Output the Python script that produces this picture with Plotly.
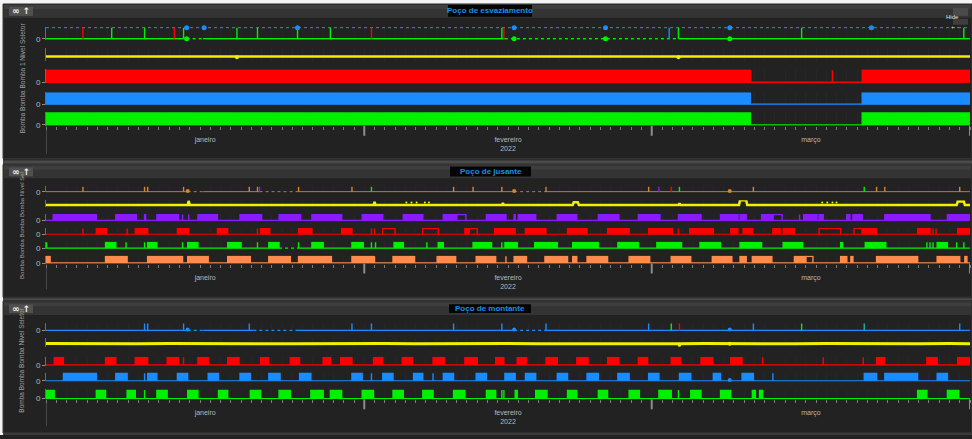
import plotly.graph_objects as go
import pandas as pd

W, H = 972, 439
START = pd.Timestamp("2022-01-01")
PERIOD_DAYS = 90

# ---------------- text ----------------
panel_titles = ["Poço de esvaziamento", "Poço de jusante", "Poço de montante"]
axis_titles = ["Bomba Bomba Bomba 1 Nível Seletor",
               "Bomba Bomba Bomba Bomba Nível Sel",
               "Bomba Bomba Bomba Nível Seletor"]
axis_title_sizes = [6.5, 6, 6.5]
month_tickvals = ["2022-01-16 12:00", "2022-02-15 00:00", "2022-03-16 12:00"]
month_ticktext = ["janeiro", "fevereiro<br>2022", "março"]
month_bounds = ["2022-02-01", "2022-03-01", "2022-04-01"]

# ---------------- data: day offsets from 2022-01-01 ----------------
# Panel 1 - Poço de esvaziamento
p1_sel_green_spikes = [6.4, 9.6, 13.4, 18.6, 20.6, 24.5, 27.7, 44.4, 61.6, 73.6, 89.4]
p1_sel_red_spikes = [3.6, 12.5, 31.7, 44.6]
p1_sel_blue_spikes = [60.7]
p1_sel_gaps = [(13.7, 15.3), (44.7, 61.6)]
p1_sel_blue_dots = [13.7, 15.4, 24.5, 45.6, 54.5, 66.6, 80.4]
p1_sel_green_dots = [13.7, 45.6, 54.5, 66.6]
p1_level_x = [0, 9.6, 18.6, 27.7, 36, 45.6, 54.5, 61.6, 70, 80, 90]
p1_level_y = [0.36, 0.36, 0.35, 0.36, 0.36, 0.37, 0.36, 0.35, 0.36, 0.36, 0.36]
p1_level_dots = [18.6, 61.6]
p1_pump1_on = [(0, 68.6), (76.6, 76.6), (79.5, 90)]
p1_pump2_on = [(0, 68.6), (79.5, 90)]
p1_pump3_on = [(0, 68.6), (79.5, 90)]

# Panel 2 - Poço de jusante
p2_sel_spikes = [3.6, 9.6, 9.9, 13.4, 19.8, 20.6, 24.6, 29.8, 39.7, 41.6, 44.4, 48.7,
                 58.7, 68.9, 80.9, 81.7, 89.0]
p2_sel_purple_spikes = [20.8, 59.7]
p2_sel_green_spikes = [31.7, 61.7, 79.7]
p2_sel_red_spikes = [60.9]
p2_sel_gaps = [(13.8, 15.3), (20.8, 24.6), (45.6, 48.7)]
p2_sel_dots = [13.8, 45.6, 66.6]
p2_level_x = [0, 13.8, 13.9, 14.0, 31.9, 32.0, 32.1, 44.4, 44.5, 44.6, 51.3, 51.4, 51.8,
              51.9, 61.6, 61.7, 61.8, 67.5, 67.6, 68.2, 68.3, 88.7, 88.8, 89.4, 89.5, 90]
p2_level_y = [0.29, 0.29, 0.9, 0.29, 0.29, 0.75, 0.29, 0.29, 0.6, 0.29, 0.29, 0.7, 0.7,
              0.29, 0.29, 0.55, 0.29, 0.29, 1.0, 1.0, 0.29, 0.29, 0.8, 0.8, 0.29, 0.29]
p2_level_blips = [35.1, 35.6, 36.1, 36.9, 37.3, 75.6, 76.1, 76.6, 77.0]
p2_purple_on = [(0.7, 4.9), (6.8, 8.8), (9.6, 9.7), (10.8, 12.9), (13.3, 13.3), (13.9, 13.9),
                (14.8, 16.7), (18.9, 21.0), (22.7, 24.8), (25.9, 28.8), (30.8, 32.8),
                (34.8, 36.7), (38.7, 40.0), (42.9, 44.8), (45.6, 45.7), (46.0, 47.7),
                (49.8, 51.7), (53.8, 55.8), (57.7, 59.8), (61.6, 63.8), (65.7, 67.4),
                (67.6, 68.2), (69.7, 70.8), (73.4, 73.4), (73.8, 75.1), (75.3, 75.7),
                (78.0, 78.3), (78.6, 79.5), (81.7, 86.1), (87.8, 90)]
p2_purple_partial = [(40.0, 40.9), (70.8, 71.7)]
p2_red_on = [(3.6, 3.6), (4.9, 5.9), (7.9, 7.9), (8.7, 9.9), (12.8, 13.9), (16.7, 17.7),
             (20.6, 20.6), (20.9, 21.8), (24.6, 25.9), (28.8, 29.8), (31.7, 31.7),
             (32.0, 32.0), (40.8, 41.2), (43.7, 45.7), (46.7, 48.7), (50.8, 52.7),
             (54.7, 56.8), (58.7, 61.0), (61.6, 61.6), (62.7, 65.0), (66.7, 67.4),
             (67.9, 68.8), (70.8, 71.5), (71.8, 72.9), (79.5, 80.9), (84.9, 86.1),
             (86.4, 86.4), (86.7, 86.7), (88.8, 90)]
p2_red_partial = [(32.8, 34.0), (36.7, 38.2), (41.2, 42.0), (75.3, 77.4), (78.7, 79.5)]
p2_green_on = [(0.05, 0.05), (5.8, 6.8), (7.8, 7.8), (9.6, 9.6), (9.9, 10.8), (13.3, 13.3),
               (13.8, 14.8), (17.7, 19.0), (20.6, 20.6), (21.7, 22.7), (24.6, 24.6),
               (25.9, 27.0), (29.8, 30.9), (31.7, 31.7), (32.1, 32.1), (33.9, 34.8),
               (37.1, 37.1), (38.2, 38.7), (41.6, 43.4), (44.4, 44.4), (44.7, 45.9),
               (47.6, 49.8), (51.3, 53.8), (55.7, 57.7), (59.5, 61.9), (63.7, 65.7),
               (67.6, 69.7), (71.8, 73.7), (77.4, 77.6), (79.8, 81.8), (85.8, 85.8),
               (86.1, 86.1), (86.4, 86.4), (86.8, 87.8), (88.7, 88.7), (89.4, 89.4)]
p2_green_gaps = [(22.7, 24.6)]
p2_coral_on = [(0, 0.4), (5.8, 7.9), (9.9, 13.3), (13.8, 15.8), (17.7, 19.9), (21.7, 23.8),
               (24.6, 27.8), (29.8, 31.9), (32.0, 32.0), (33.8, 35.9), (38.1, 39.9),
               (41.9, 43.8), (44.8, 44.8), (45.6, 46.8), (48.6, 50.8), (51.3, 51.7),
               (52.7, 54.7), (56.8, 58.8), (60.9, 62.8), (64.9, 66.8), (67.6, 68.2),
               (68.8, 70.7), (72.9, 74.0), (77.4, 78.0), (78.4, 78.6), (80.9, 84.9),
               (86.8, 89.0), (89.5, 89.7)]
p2_coral_partial = [(74.0, 74.7)]

# Panel 3 - Poço de montante
p3_sel_spikes = [9.6, 9.9, 13.4, 19.8, 29.8, 31.7, 39.7, 44.4, 48.7, 58.7, 68.9, 89.0]
p3_sel_green_spikes = [60.9, 73.6]
p3_sel_red_spikes = [61.7]
p3_sel_teal_spikes = [79.7]
p3_sel_gaps = [(13.8, 15.3), (20.2, 24.3), (45.6, 48.7)]
p3_sel_dots = [13.8, 45.6, 66.6]
p3_level_x = [0, 3, 6, 9, 12, 15, 18, 21, 24, 27, 30, 33, 36, 39, 42, 45, 48, 51, 54, 57,
              60, 61.6, 61.7, 61.8, 64, 67, 70, 73, 76, 79, 82, 85, 88, 90]
p3_level_y = [0.36, 0.33, 0.37, 0.34, 0.36, 0.33, 0.37, 0.35, 0.33, 0.36, 0.34, 0.37, 0.33,
              0.36, 0.34, 0.37, 0.33, 0.35, 0.37, 0.34, 0.36, 0.34, 0.15, 0.34, 0.36, 0.33,
              0.37, 0.34, 0.36, 0.33, 0.37, 0.34, 0.36, 0.35]
p3_level_dots = [66.6]
p3_red_on = [(0.8, 1.7), (5.8, 6.8), (8.7, 9.9), (11.8, 12.9), (13.4, 13.4), (14.8, 15.8),
             (17.7, 18.8), (20.9, 21.7), (23.8, 24.7), (27.0, 27.7), (28.7, 29.8),
             (31.9, 32.8), (34.7, 35.7), (37.7, 38.8), (40.8, 42.0), (43.8, 44.6),
             (45.9, 46.8), (48.7, 49.8), (51.7, 52.8), (54.7, 55.8), (57.7, 58.6),
             (60.9, 61.8), (63.8, 64.9), (66.7, 67.8), (69.8, 69.8), (75.7, 75.7),
             (79.6, 79.6), (80.9, 81.7), (85.8, 86.8), (88.8, 90)]
p3_blue_on = [(1.7, 4.9), (6.8, 7.9), (9.6, 9.6), (9.9, 10.8), (12.8, 13.8), (15.8, 16.8),
              (18.9, 19.9), (21.7, 22.8), (24.7, 25.8), (29.8, 30.8), (31.7, 31.7),
              (32.8, 33.8), (35.8, 36.7), (37.7, 37.7), (38.7, 39.7), (41.9, 42.9),
              (44.7, 45.7), (46.7, 47.7), (49.8, 50.8), (52.7, 53.8), (55.7, 56.8),
              (58.7, 59.7), (61.7, 62.8), (65.0, 65.7), (67.8, 68.9), (70.8, 70.8),
              (79.7, 80.9), (81.7, 84.9), (86.8, 87.8)]
p3_blue_dots = [66.6]
p3_green_on = [(0, 0.8), (4.9, 5.8), (7.9, 8.7), (9.6, 9.6), (10.8, 11.8), (13.8, 14.8),
               (16.8, 17.7), (19.9, 20.9), (22.7, 23.8), (25.8, 27.0), (27.7, 28.8),
               (30.8, 31.9), (33.8, 34.8), (36.7, 37.7), (39.7, 40.8), (42.9, 43.8),
               (44.4, 44.4), (44.6, 44.6), (45.7, 45.9), (47.7, 48.8), (50.8, 51.7),
               (53.8, 54.7), (56.8, 57.8), (59.7, 60.9), (61.6, 61.6), (62.8, 63.8),
               (65.7, 66.7), (68.8, 69.1), (69.5, 69.8), (84.9, 85.8), (87.8, 88.9)]

# ---------------- style ----------------
GREEN = "#00f000"
RED = "#ff0000"
BLUE = "#1a8cff"
YELLOW = "#f0f000"
PURPLE = "#8c1aff"
CORAL = "#ff8c4d"
OCHRE = "#d8891c"
TEAL = "#20b0a0"
BG = "#222222"
BAND = "#303030"
GRID = "#262626"
TXT = "#b8b8b8"

# row layout: (panel, top px, bottom px, kind)
rows = [
    (0, 27, 40, "state"), (0, 48, 62, "level"), (0, 70, 84, "state"),
    (0, 93, 106, "state"), (0, 113, 127, "state"),
    (1, 188, 194, "state"), (1, 202, 209, "level"), (1, 216, 223, "state"),
    (1, 230, 237, "state"), (1, 244, 251, "state"), (1, 258, 266, "state"),
    (2, 326, 334, "state"), (2, 341, 350, "level"), (2, 360, 369, "state"),
    (2, 376, 385, "state"), (2, 393, 403, "state"),
]
panel_bottom_row = {0: 5, 1: 11, 2: 16}
panel_box = {0: (4, 160), 1: (166, 300), 2: (304, 437)}
panel_axis_end = {0: 155, 1: 292, 2: 430}


def ts(d):
    return (START + pd.Timedelta(days=d)).strftime("%Y-%m-%d %H:%M:%S")


def ax(i):
    return ("x" if i == 1 else f"x{i}"), ("y" if i == 1 else f"y{i}")


fig = go.Figure()


def add_blocks(i, color, intervals, fill=True, width=1.4):
    xs, ys = [], []
    for s, e in intervals:
        xs += [ts(s), ts(s), ts(e), ts(e), None]
        ys += [0, 1, 1, 0, None]
    xa, ya = ax(i)
    fig.add_trace(go.Scatter(x=xs, y=ys, xaxis=xa, yaxis=ya, mode="lines",
                             line=dict(color=color, width=width),
                             fill="toself" if fill else "none", fillcolor=color,
                             hoverinfo="skip"))


def add_spikes(i, color, days, width=1.4):
    add_blocks(i, color, [(d, d) for d in days], fill=False, width=width)


def add_baseline(i, color, gaps=(), width=1.4):
    xs, ys, dx, dy = [], [], [], []
    cur = 0
    for gs, ge in gaps:
        xs += [ts(cur), ts(gs), None]
        ys += [0, 0, None]
        dx += [ts(gs), ts(ge), None]
        dy += [0, 0, None]
        cur = ge
    xs += [ts(cur), ts(PERIOD_DAYS)]
    ys += [0, 0]
    xa, ya = ax(i)
    fig.add_trace(go.Scatter(x=xs, y=ys, xaxis=xa, yaxis=ya, mode="lines",
                             line=dict(color=color, width=width), hoverinfo="skip"))
    if dx:
        fig.add_trace(go.Scatter(x=dx, y=dy, xaxis=xa, yaxis=ya, mode="lines",
                                 line=dict(color=color, width=width, dash="dot"),
                                 hoverinfo="skip"))


def add_dots(i, color, days, yv, size=5):
    xa, ya = ax(i)
    fig.add_trace(go.Scatter(x=[ts(d) for d in days], y=[yv] * len(days), xaxis=xa,
                             yaxis=ya, mode="markers", cliponaxis=False,
                             marker=dict(color=color, size=size), hoverinfo="skip"))


def add_level(i, xs, ys, width=2.5):
    xa, ya = ax(i)
    fig.add_trace(go.Scatter(x=[ts(d) for d in xs], y=ys, xaxis=xa, yaxis=ya,
                             mode="lines", line=dict(color=YELLOW, width=width),
                             hoverinfo="skip"))


# ---- Panel 1
xa, ya = ax(1)
fig.add_trace(go.Scatter(x=[ts(0), ts(PERIOD_DAYS)], y=[1, 1], xaxis=xa, yaxis=ya,
                         mode="lines", line=dict(color=BLUE, width=1, dash="dot"),
                         hoverinfo="skip"))
add_baseline(1, GREEN, p1_sel_gaps)
add_spikes(1, GREEN, p1_sel_green_spikes)
add_spikes(1, RED, p1_sel_red_spikes)
add_spikes(1, BLUE, p1_sel_blue_spikes)
add_dots(1, BLUE, p1_sel_blue_dots, 1, 5)
add_dots(1, GREEN, p1_sel_green_dots, 0, 5)
add_level(2, p1_level_x, p1_level_y)
add_dots(2, YELLOW, p1_level_dots, 0.3, 4)
add_baseline(3, RED)
add_blocks(3, RED, p1_pump1_on)
add_baseline(4, BLUE)
add_blocks(4, BLUE, p1_pump2_on)
add_baseline(5, GREEN)
add_blocks(5, GREEN, p1_pump3_on)

# ---- Panel 2
add_baseline(6, OCHRE, p2_sel_gaps)
add_spikes(6, OCHRE, p2_sel_spikes)
add_spikes(6, PURPLE, p2_sel_purple_spikes)
add_spikes(6, GREEN, p2_sel_green_spikes)
add_spikes(6, RED, p2_sel_red_spikes)
add_dots(6, OCHRE, p2_sel_dots, 0.15, 4)
add_level(7, p2_level_x, p2_level_y, 2.5)
add_dots(7, YELLOW, p2_level_blips, 0.65, 2)
add_baseline(8, PURPLE)
add_blocks(8, PURPLE, p2_purple_on)
add_blocks(8, PURPLE, p2_purple_partial, fill=False)
add_baseline(9, RED)
add_blocks(9, RED, p2_red_on)
add_blocks(9, RED, p2_red_partial, fill=False)
add_baseline(10, GREEN, p2_green_gaps)
add_blocks(10, GREEN, p2_green_on)
add_baseline(11, CORAL)
add_blocks(11, CORAL, p2_coral_on)
add_blocks(11, CORAL, p2_coral_partial, fill=False)

# ---- Panel 3
add_baseline(12, BLUE, p3_sel_gaps)
add_spikes(12, BLUE, p3_sel_spikes)
add_spikes(12, GREEN, p3_sel_green_spikes)
add_spikes(12, RED, p3_sel_red_spikes)
add_spikes(12, TEAL, p3_sel_teal_spikes)
add_dots(12, BLUE, p3_sel_dots, 0.15, 4)
add_level(13, p3_level_x, p3_level_y, 3)
add_dots(13, YELLOW, p3_level_dots, 0.35, 4)
add_baseline(14, RED)
add_blocks(14, RED, p3_red_on)
add_baseline(15, BLUE)
add_blocks(15, BLUE, p3_blue_on)
add_dots(15, BLUE, p3_blue_dots, 0.1, 4)
add_baseline(16, GREEN)
add_blocks(16, GREEN, p3_green_on)

# ---------------- axes ----------------
layout_axes = {}
for i, (p, top, bot, kind) in enumerate(rows, start=1):
    xk = "xaxis" if i == 1 else f"xaxis{i}"
    yk = "yaxis" if i == 1 else f"yaxis{i}"
    xa, ya = ax(i)
    is_bottom = panel_bottom_row[p] == i
    xcfg = dict(type="date", range=[ts(0), ts(PERIOD_DAYS)], domain=[46 / W, 970 / W],
                anchor=ya, showgrid=False, zeroline=False, showline=False,
                fixedrange=True, ticks="", showticklabels=False,
                minor=dict(tickmode="linear", tick0=ts(0), dtick=86400000,
                           showgrid=True, gridcolor=GRID, gridwidth=1, ticks=""))
    if is_bottom:
        xcfg.update(tickmode="array", tickvals=month_tickvals, ticktext=month_ticktext,
                    showticklabels=True, tickfont=dict(size=7, color=TXT,
                                                       family="Liberation Sans"),
                    ticklabelstandoff=8)
        xcfg["minor"].update(ticks="outside", ticklen=3, tickcolor="#7c7c7c",
                             tickwidth=1)
    layout_axes[xk] = xcfg
    ycfg = dict(domain=[1 - bot / H, 1 - top / H], anchor=xa, fixedrange=True,
                showgrid=False, zeroline=False, showline=True, linecolor="#6c6c6c",
                linewidth=1)
    if kind == "state":
        ycfg.update(range=[-0.08, 1.08], tickmode="array", tickvals=[0], ticktext=["0"],
                    ticks="outside", ticklen=3, tickcolor="#8a8a8a",
                    tickfont=dict(size=8, color=TXT, family="Liberation Sans"))
    else:
        ycfg.update(range=[0, 1], showticklabels=False, ticks="")
    layout_axes[yk] = ycfg

# ---------------- decorations ----------------
shapes = []
annotations = []


def rect(x0, y0, x1, y1, fill, line=None, lw=0):
    shapes.append(dict(type="rect", xref="paper", yref="paper", x0=x0 / W, x1=x1 / W,
                       y0=1 - y1 / H, y1=1 - y0 / H, fillcolor=fill, layer="below",
                       line=dict(color=line or fill, width=lw)))


# outer frame
rect(0, 0, W, 4, "#f4f4f4")
rect(0, 0, 3, H, "#f4f4f4")
for p, (y0, y1) in panel_box.items():
    rect(3, y0, W, y1, BG, "#3c3c3c", 1)
    rect(4, y0 + 1, W - 1, y0 + 14, "#343434")
    rect(4, y0 + 1, W - 1, y0 + 5, "#3e3e3e")
# separators between panels
rect(3, 160, W, 166, "#2c2c2c")
rect(3, 162, W, 165, "#4a4a4a")
rect(3, 300, W, 304, "#2c2c2c")
rect(3, 301, W, 303, "#4a4a4a")
rect(3, 437, W, H, "#3a3a3a")

# title boxes
title_boxes = [(448, 5, 532, 17), (450, 168, 531, 178), (449, 307, 531, 316)]
for (x0, y0, x1, y1), title in zip(title_boxes, panel_titles):
    rect(x0, y0, x1, y1, "#050505")
    annotations.append(dict(text=f"<b>{title}</b>", x=(x0 + x1) / 2 / W,
                            y=1 - (y0 + y1) / 2 / H, xref="paper", yref="paper",
                            showarrow=False, xanchor="center", yanchor="middle",
                            font=dict(size=8, color="#1a8fe8", family="Liberation Sans")))

# header icon buttons
for p, (y0, y1) in panel_box.items():
    rect(9, y0 + 3, 33, y0 + 12, "#505050")
    annotations.append(dict(text="<b>∞ ↑</b>", x=21 / W, y=1 - (y0 + 7.5) / H,
                            xref="paper", yref="paper", showarrow=False,
                            xanchor="center", yanchor="middle",
                            font=dict(size=9, color="#f0f0f0", family="DejaVu Sans")))
# Hide button
rect(953, 8, 968, 16, "#4a4a4a")
annotations.append(dict(text="Hide", x=960.5 / W, y=1 - 12 / H, xref="paper", yref="paper",
                        showarrow=False, font=dict(size=6, color="#e0e0e0",
                                                   family="Liberation Sans")))
rect(953, 19, 968, 25, "#3e3e3e")
annotations.append(dict(text="+  -", x=960.5 / W, y=1 - 22 / H, xref="paper",
                        yref="paper", showarrow=False,
                        font=dict(size=5, color="#d0d0d0", family="Liberation Sans")))

# rotated y titles
title_centers = [79, 228, 364]
for yc, txt, fs in zip(title_centers, axis_titles, axis_title_sizes):
    annotations.append(dict(text=txt, x=22 / W, y=1 - yc / H, xref="paper", yref="paper",
                            showarrow=False, textangle=-90, xanchor="center",
                            yanchor="middle",
                            font=dict(size=fs, color="#a0a0a0", family="Liberation Sans")))

# month boundary ticks and left axis extension
for p, bi in panel_bottom_row.items():
    xa, _ = ax(bi)
    axis_py = rows[bi - 1][2]
    for mb in month_bounds:
        shapes.append(dict(type="line", xref=xa, yref="paper", x0=mb, x1=mb,
                           y0=1 - axis_py / H, y1=1 - (axis_py + 10) / H,
                           line=dict(color="#8c8c8c", width=2), layer="above"))
    shapes.append(dict(type="line", xref=xa, yref="paper", x0=ts(0), x1=ts(0),
                       y0=1 - axis_py / H, y1=1 - panel_axis_end[p] / H,
                       line=dict(color="#6c6c6c", width=1), layer="above"))

fig.update_layout(
    width=W, height=H, autosize=False,
    margin=dict(l=0, r=0, t=0, b=0, pad=0),
    paper_bgcolor=BG, plot_bgcolor=BAND,
    showlegend=False,
    shapes=shapes, annotations=annotations,
    font=dict(family="Liberation Sans", color=TXT),
    **layout_axes,
)

fig.write_html("out.html", config={"displayModeBar": False},
               post_script="document.body.style.margin='0';"
                           "document.body.style.overflow='hidden';")
